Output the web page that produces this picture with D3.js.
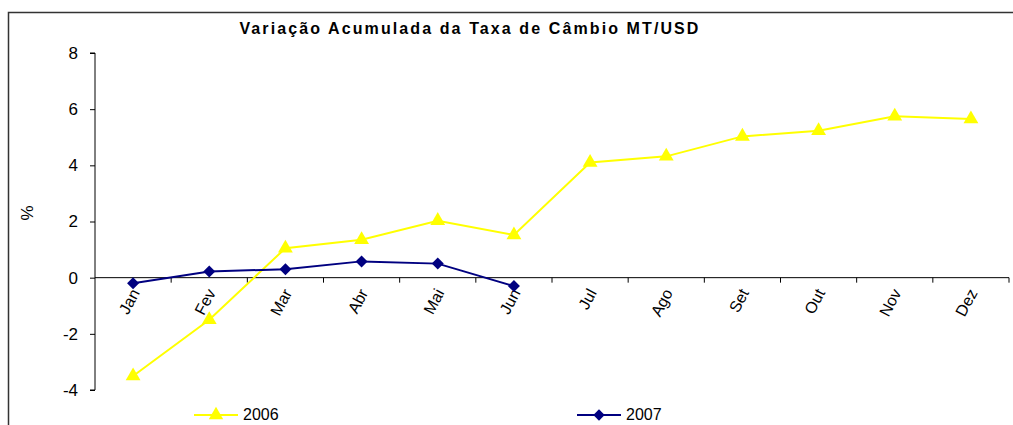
<!DOCTYPE html>
<html>
<head>
<meta charset="utf-8">
<script src="https://cdn.jsdelivr.net/npm/d3@7"></script>
<style>
  body { margin: 0; background: #fff; }
  text { font-family: "Liberation Sans", Arial, sans-serif; }
</style>
</head>
<body>
<svg id="chart" width="1013" height="425"></svg>
<script>
// data
var months = ["Jan", "Fev", "Mar", "Abr", "Mai", "Jun", "Jul", "Ago", "Set", "Out", "Nov", "Dez"];
var values2006 = [-3.5, -1.5, 1.05, 1.35, 2.03, 1.52, 4.1, 4.32, 5.03, 5.23, 5.75, 5.65];
var values2007 = [-0.2, 0.22, 0.3, 0.58, 0.5, -0.3];
var yTicks = [-4, -2, 0, 2, 4, 6, 8];

var svg = d3.select("#chart");

// outer frame (only top and left are visible)
svg.append("path")
   .attr("d", "M8.5,425 V12.5 H1013")
   .attr("fill", "none")
   .attr("stroke", "#333")
   .attr("stroke-width", 1.5);

var plotLeft = 95, plotRight = 1009, plotTop = 53, plotBottom = 390;

var x = d3.scaleBand().domain(months).range([plotLeft, plotRight]);
var y = d3.scaleLinear().domain([-4, 8]).range([plotBottom, plotTop]);

// title
svg.append("text")
   .attr("x", 470)
   .attr("y", 34)
   .attr("text-anchor", "middle")
   .attr("font-size", 16)
   .attr("font-weight", "bold")
   .attr("letter-spacing", 2.1)
   .text("Variação Acumulada da Taxa de Câmbio MT/USD");

// y axis (plain hyphen for negatives, like the original)
var yAxis = d3.axisLeft(y).tickValues(yTicks).tickSize(5).tickPadding(12)
   .tickFormat(function(d) { return String(d); });
var gy = svg.append("g")
   .attr("transform", "translate(" + plotLeft + ",0)")
   .call(yAxis);
gy.select(".domain").attr("stroke", "#000").attr("d", "M-5," + y(8) + "H0V" + y(-4) + "H-5");
gy.selectAll("text").attr("font-size", 17).attr("font-family", "Liberation Sans, Arial, sans-serif");

svg.append("text")
   .attr("transform", "translate(33,213) rotate(-90)")
   .attr("text-anchor", "middle")
   .attr("font-size", 17)
   .text("%");

// x axis on the zero line, ticks at band edges
var gx = svg.append("g").attr("transform", "translate(0," + y(0) + ")");
gx.append("line").attr("x1", plotLeft).attr("x2", plotRight).attr("stroke", "#000");
gx.selectAll(".tk")
  .data(months)
  .enter().append("line")
  .attr("x1", function(d) { return x(d) + x.bandwidth(); })
  .attr("x2", function(d) { return x(d) + x.bandwidth(); })
  .attr("y1", 0).attr("y2", 5)
  .attr("stroke", "#000");
gx.selectAll(".lbl")
  .data(months)
  .enter().append("text")
  .attr("transform", function(d) {
      return "translate(" + (x(d) + x.bandwidth() / 2 + 7) + ",15) rotate(-62)";
  })
  .attr("text-anchor", "end")
  .attr("font-size", 16)
  .text(function(d) { return d; });

var line = d3.line()
   .x(function(d, i) { return x(months[i]) + x.bandwidth() / 2; })
   .y(function(d) { return y(d); });

// 2006 series
svg.append("path")
   .datum(values2006)
   .attr("d", line)
   .attr("fill", "none")
   .attr("stroke", "#ffff00")
   .attr("stroke-width", 2);
svg.selectAll(".tri")
   .data(values2006)
   .enter().append("path")
   .attr("d", d3.symbol(d3.symbolTriangle, 95))
   .attr("transform", function(d, i) { return "translate(" + (x(months[i]) + x.bandwidth() / 2) + "," + y(d) + ")"; })
   .attr("fill", "#ffff00");

// 2007 series
svg.append("path")
   .datum(values2007)
   .attr("d", line)
   .attr("fill", "none")
   .attr("stroke", "#000080")
   .attr("stroke-width", 2);
svg.selectAll(".dia")
   .data(values2007)
   .enter().append("path")
   .attr("d", d3.symbol(d3.symbolSquare, 72))
   .attr("transform", function(d, i) { return "translate(" + (x(months[i]) + x.bandwidth() / 2) + "," + y(d) + ") rotate(45)"; })
   .attr("fill", "#000080");

// legend
var legend = [
  {name: "2006", color: "#ffff00", sym: d3.symbolTriangle, size: 90, rot: 0, x: 194},
  {name: "2007", color: "#000080", sym: d3.symbolSquare, size: 64, rot: 45, x: 577}
];
var lg = svg.selectAll(".lg").data(legend).enter().append("g")
   .attr("transform", function(d) { return "translate(" + d.x + ",415)"; });
lg.append("line").attr("x1", 0).attr("x2", 44).attr("stroke", function(d) { return d.color; }).attr("stroke-width", 2);
lg.append("path")
  .attr("d", function(d) { return d3.symbol(d.sym, d.size)(); })
  .attr("transform", function(d) { return "translate(22,0) rotate(" + d.rot + ")"; })
  .attr("fill", function(d) { return d.color; });
lg.append("text").attr("x", 49).attr("y", 5).attr("font-size", 16).text(function(d) { return d.name; });
</script>
</body>
</html>
